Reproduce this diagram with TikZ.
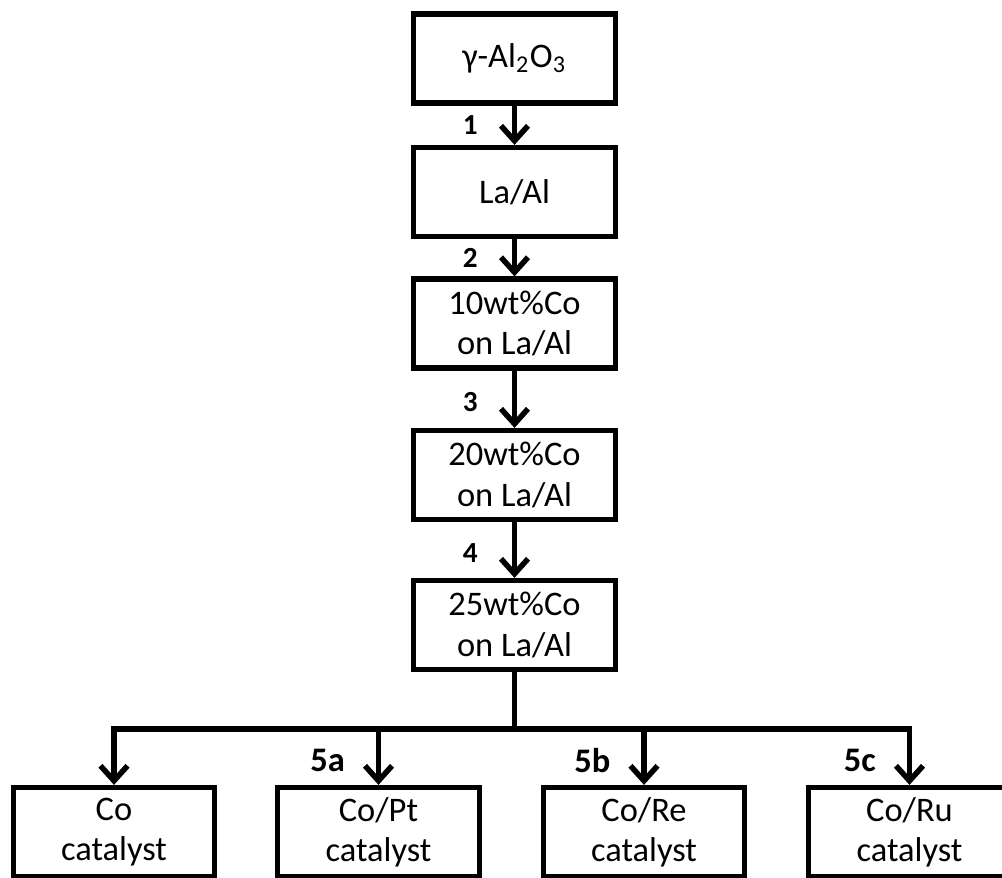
\documentclass[tikz,border=0pt]{standalone}
\usepackage{fontspec}
\setmainfont{Carlito}
\usetikzlibrary{arrows.meta, positioning}

\begin{document}
\begin{tikzpicture}[
  >={Straight Barb[length=0.15cm,width=0.27cm]},
  stage/.style={draw, line width=0.052cm, minimum width=2.015cm, minimum height=0.89cm, align=center, inner sep=0, font=\fontsize{9.8}{11.4}\selectfont},
  flow/.style={->, line width=0.055cm},
  stepno/.style={inner sep=0, font=\fontsize{8.3}{9}\selectfont\bfseries},
  branchno/.style={inner sep=0, font=\fontsize{9.8}{11}\selectfont\bfseries}
]
\useasboundingbox (0,0) rectangle (10.02,-8.78);
\clip (0,0) rectangle (10.02,-8.78);
\node[stage] (g) at (5.145,-0.585) {γ-Al\textsubscript{2}O\textsubscript{3}};
\node[stage] (la) at (5.145,-1.92) {La/Al};
\node[stage] (co10) at (5.145,-3.235) {10wt\%Co\\on La/Al};
\node[stage] (co20) at (5.145,-4.75) {20wt\%Co\\on La/Al};
\node[stage] (co25) at (5.145,-6.25) {25wt\%Co\\on La/Al};
\node[stage] (cat) at (1.14,-8.32) {Co\\catalyst};
\node[stage] (catpt) at (3.785,-8.32) {Co/Pt\\catalyst};
\node[stage] (catre) at (6.44,-8.32) {Co/Re\\catalyst};
\node[stage] (catru) at (9.095,-8.32) {Co/Ru\\catalyst};
\coordinate (split) at (5.145,-7.29);
\draw[flow] (g) -- (la) node[midway, left=0.34cm, stepno] {1};
\draw[flow] (la) -- (co10) node[midway, left=0.34cm, stepno] {2};
\draw[flow] (co10) -- (co20) node[midway, left=0.34cm, yshift=-0.03cm, stepno] {3};
\draw[flow] (co20) -- (co25) node[midway, left=0.34cm, yshift=-0.03cm, stepno] {4};
% Branches:
\draw[line width=0.052cm] (co25) -- (split);
\draw[flow] (split) -| (cat);
\draw[flow] (split) -| (catpt) node[pos=0.75, left=0.31cm, yshift=-0.04cm, branchno] {5a};
\draw[flow] (split) -| (catre) node[pos=0.75, left=0.31cm, yshift=-0.04cm, branchno] {5b};
\draw[flow] (split) -| (catru) node[pos=0.75, left=0.31cm, yshift=-0.04cm, branchno] {5c};
\end{tikzpicture}
\end{document}
